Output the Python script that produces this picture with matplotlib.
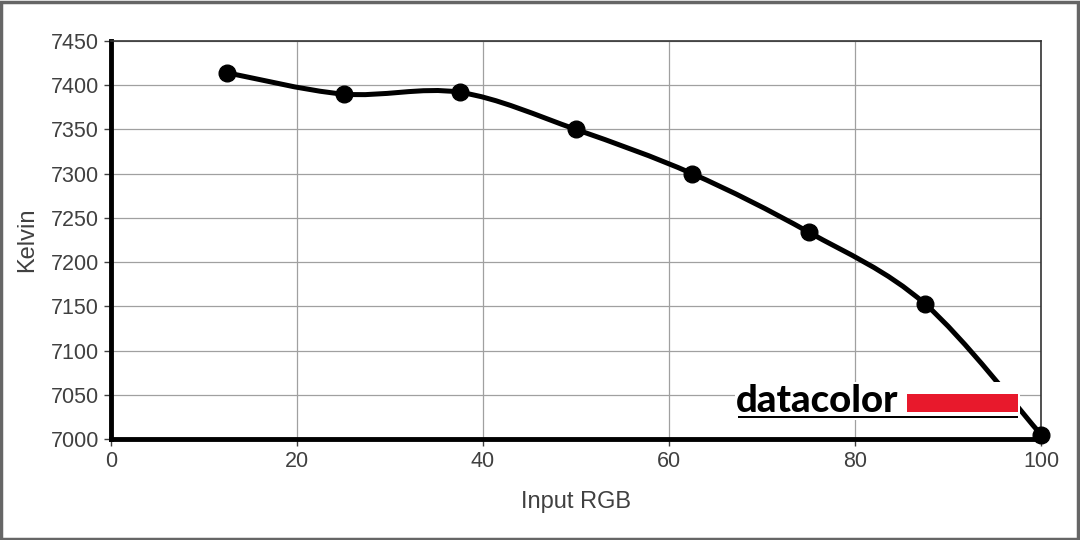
import numpy as np
import matplotlib.pyplot as plt
from matplotlib.path import Path
from matplotlib.patches import PathPatch, Rectangle

plt.rcParams['font.family'] = ['Liberation Sans', 'DejaVu Sans']

# data
input_rgb = [12.5, 25, 37.5, 50, 62.5, 75, 87.5, 100]
kelvin = [7414, 7390, 7392, 7350, 7300, 7234, 7153, 7005]
x_ticks = [0, 20, 40, 60, 80, 100]
y_ticks = list(range(7000, 7451, 50))


def smooth_path(xs, ys, k=1 / 6):
    # Excel-style smoothed line: cubic bezier segments (Catmull-Rom)
    pts = np.column_stack([xs, ys]).astype(float)
    verts = [pts[0]]
    codes = [Path.MOVETO]
    n = len(pts)
    for i in range(n - 1):
        p0 = pts[i - 1] if i > 0 else pts[i]
        p1 = pts[i]
        p2 = pts[i + 1]
        p3 = pts[i + 2] if i + 2 < n else pts[i + 1]
        verts += [p1 + (p2 - p0) * k, p2 - (p3 - p1) * k, p2]
        codes += [Path.CURVE4] * 3
    return Path(verts, codes)


fig = plt.figure(figsize=(10.8, 5.4), dpi=100)
ax = fig.add_axes([111 / 1080, 1 - 439 / 540, 930 / 1080, 398 / 540])

ax.add_patch(PathPatch(smooth_path(input_rgb, kelvin), fill=False,
                       edgecolor='black', lw=3.6, capstyle='round', zorder=3))
ax.plot(input_rgb, kelvin, 'o', color='black', markersize=12, zorder=4, clip_on=False)

ax.set_xlim(0, 100)
ax.set_ylim(7000, 7450)
ax.set_xticks(x_ticks)
ax.set_yticks(y_ticks)
ax.grid(True, color='#a0a0a0', lw=0.9)
ax.set_axisbelow(True)
ax.tick_params(labelsize=15.5, labelcolor='#404040', color='#404040', length=5, width=1)
ax.spines['left'].set_linewidth(3.5)
ax.spines['bottom'].set_linewidth(3.5)
ax.spines['top'].set_color('#333333')
ax.spines['right'].set_color('#333333')
ax.spines['top'].set_linewidth(1.2)
ax.spines['right'].set_linewidth(1.2)
ax.set_xlabel('Input RGB', fontsize=17, color='#404040', labelpad=14)
ax.set_ylabel('Kelvin', fontsize=17, color='#404040', labelpad=9)

# datacolor logo
fig.patches.append(Rectangle((735 / 1080, 1 - 420 / 540), 285 / 1080, 38 / 540,
                             transform=fig.transFigure, facecolor='white',
                             edgecolor='none', zorder=5))
fig.text(736 / 1080, 1 - 412 / 540, 'datacolor', fontsize=27.5, fontweight='black',
         family=['Lato', 'DejaVu Sans'], color='black', va='baseline', ha='left', zorder=6)
fig.patches.append(Rectangle((907 / 1080, 1 - 412 / 540), 111 / 1080, 18 / 540,
                             transform=fig.transFigure, facecolor='#e8192c',
                             edgecolor='none', zorder=6))
fig.patches.append(Rectangle((738 / 1080, 1 - 418 / 540), 280 / 1080, 2 / 540,
                             transform=fig.transFigure, facecolor='black',
                             edgecolor='none', zorder=6))

# outer frame
fig.patches.append(Rectangle((0.001, 0.002), 0.997, 0.995, transform=fig.transFigure,
                             fill=False, edgecolor='#666666', lw=2.5, zorder=10))

fig.savefig('out.png', dpi=100)
